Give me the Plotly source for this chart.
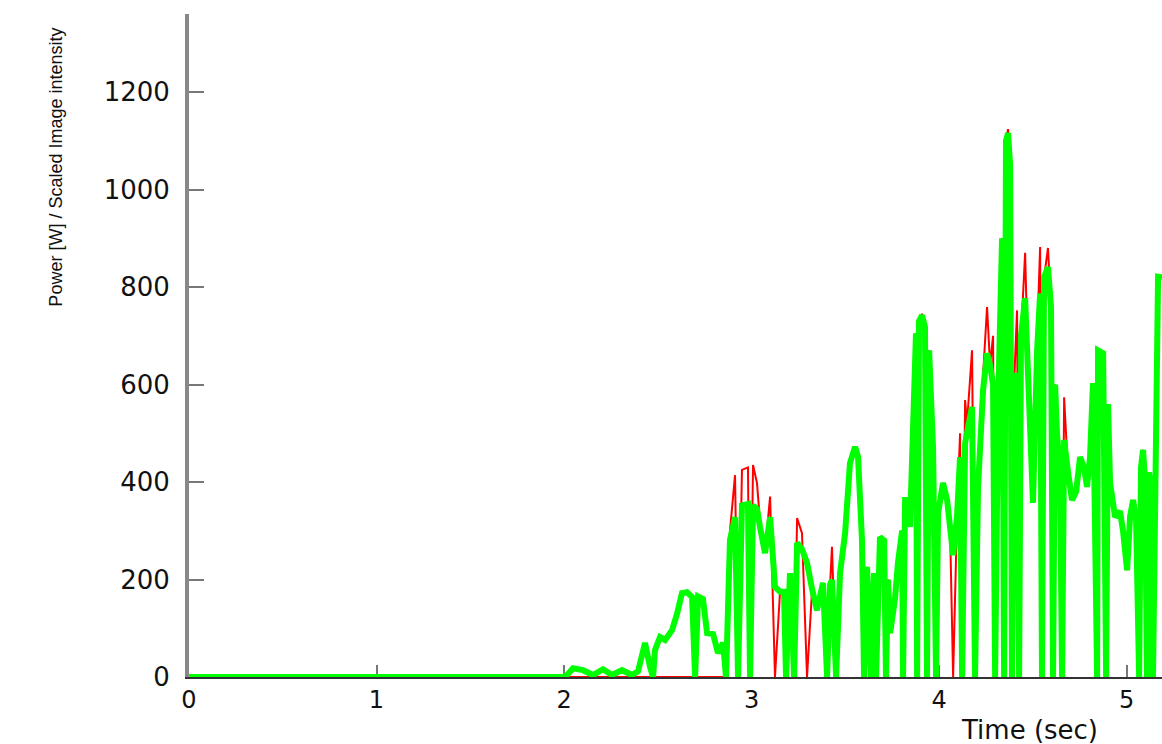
import plotly.graph_objects as go

# Time samples (s)
time_s = [
    0.0, 1.995, 2.016, 2.048, 2.101, 2.155, 2.208, 2.256, 2.309, 2.363, 2.395, 2.432, 2.459, 2.475,
    2.485, 2.512, 2.539, 2.576, 2.603, 2.629, 2.656, 2.683, 2.699, 2.715, 2.741, 2.763, 2.795, 2.821,
    2.848, 2.864, 2.885, 2.912, 2.928, 2.949, 2.981, 2.992, 3.008, 3.029, 3.045, 3.072, 3.099, 3.125,
    3.152, 3.173, 3.184, 3.205, 3.227, 3.243, 3.269, 3.296, 3.323, 3.349, 3.381, 3.403, 3.419, 3.429,
    3.451, 3.472, 3.499, 3.525, 3.552, 3.568, 3.589, 3.600, 3.616, 3.637, 3.653, 3.664, 3.685, 3.707,
    3.717, 3.728, 3.739, 3.765, 3.781, 3.803, 3.808, 3.819, 3.845, 3.861, 3.877, 3.883, 3.893, 3.909,
    3.925, 3.936, 3.947, 3.968, 3.984, 3.995, 4.021, 4.043, 4.059, 4.075, 4.096, 4.112, 4.123, 4.139,
    4.149, 4.176, 4.192, 4.208, 4.235, 4.256, 4.272, 4.288, 4.299, 4.315, 4.336, 4.347, 4.357, 4.368,
    4.379, 4.389, 4.400, 4.416, 4.427, 4.437, 4.459, 4.485, 4.501, 4.523, 4.539, 4.549, 4.560, 4.581,
    4.597, 4.608, 4.619, 4.629, 4.645, 4.656, 4.667, 4.688, 4.709, 4.731, 4.752, 4.773, 4.789, 4.805,
    4.821, 4.843, 4.848, 4.875, 4.891, 4.901, 4.912, 4.939, 4.965, 4.981, 5.003, 5.019, 5.035, 5.051,
    5.067, 5.077, 5.088, 5.099, 5.109, 5.120, 5.131, 5.141, 5.152, 5.168, 5.189,
]

# Scaled image intensity (green)
intensity = [
    0, 0, 4, 18, 14, 4, 16, 4, 14, 4, 12, 70, 20, 0,
    55, 82, 76, 96, 130, 172, 174, 164, 0, 165, 160, 90, 88, 49,
    70, 0, 281, 328, 0, 352, 355, 0, 352, 345, 308, 254, 328, 185,
    175, 175, 0, 213, 0, 275, 262, 234, 180, 137, 193, 0, 190, 199,
    0, 213, 295, 439, 472, 452, 281, 0, 226, 0, 213, 0, 287, 280,
    0, 200, 90, 160, 234, 300, 0, 369, 308, 560, 705, 0, 730, 742,
    718, 0, 670, 470, 0, 336, 398, 363, 300, 250, 330, 451, 0, 480,
    500, 554, 0, 390, 589, 664, 640, 600, 0, 560, 900, 0, 1100, 1116,
    1050, 0, 600, 623, 0, 700, 777, 480, 357, 670, 787, 0, 820, 841,
    760, 0, 600, 500, 420, 0, 486, 420, 363, 380, 451, 430, 390, 450,
    603, 0, 670, 664, 0, 560, 398, 328, 340, 300, 219, 330, 363, 320,
    0, 430, 466, 400, 0, 420, 383, 0, 450, 821, 820,
]

# Power [W] (red)
power = [
    0, 0, 0, 0, 0, 0, 0, 0, 0, 0, 0, 0, 0, 0,
    0, 0, 0, 0, 0, 0, 0, 0, 0, 0, 0, 0, 0, 0,
    0, 0, 300, 414, 0, 425, 430, 0, 435, 398, 320, 260, 370, 0,
    175, 175, 0, 213, 0, 326, 295, 0, 180, 137, 193, 0, 190, 267,
    0, 213, 295, 439, 472, 452, 281, 0, 226, 0, 213, 0, 287, 280,
    0, 200, 90, 160, 234, 300, 0, 369, 308, 560, 705, 0, 730, 745,
    718, 0, 670, 470, 0, 336, 398, 363, 300, 0, 330, 500, 0, 568,
    520, 670, 0, 390, 620, 759, 640, 700, 0, 560, 900, 0, 1100, 1124,
    1050, 0, 600, 752, 0, 700, 870, 480, 357, 700, 882, 0, 820, 880,
    760, 0, 600, 500, 420, 0, 574, 420, 363, 380, 451, 430, 390, 450,
    603, 0, 670, 664, 0, 560, 398, 328, 340, 300, 219, 330, 363, 320,
    0, 430, 466, 400, 0, 420, 383, 0, 450, 821, 820,
]

x_ticks = [0, 1, 2, 3, 4, 5]
y_ticks = [0, 200, 400, 600, 800, 1000, 1200]

fig = go.Figure()
fig.add_trace(go.Scatter(x=time_s, y=power, mode="lines",
                         line=dict(color="#ff0000", width=2), showlegend=False))
fig.add_trace(go.Scatter(x=time_s, y=intensity, mode="lines",
                         line=dict(color="#00ff00", width=6), showlegend=False))

fig.update_layout(
    width=1162, height=744,
    margin=dict(l=189, r=0, t=14, b=67),
    paper_bgcolor="white", plot_bgcolor="white",
    font=dict(family="DejaVu Sans", color="#111111"),
    xaxis=dict(range=[0, 5.189], tickvals=x_ticks, ticktext=[str(v) for v in x_ticks],
               showgrid=False, zeroline=False, showline=True, linecolor="#333333", linewidth=1.5,
               ticks="inside", ticklen=12, tickwidth=1.5, tickcolor="#777777",
               tickfont=dict(family="DejaVu Sans", size=24, color="#111111"),
               ticklabelstandoff=0, layer="below traces"),
    yaxis=dict(range=[0, 1360], tickvals=y_ticks, ticktext=[str(v) for v in y_ticks],
               showgrid=False, zeroline=False, showline=True, linecolor="#888888", linewidth=4,
               ticks="inside", ticklen=15, tickwidth=1.5, tickcolor="#777777",
               tickfont=dict(family="DejaVu Sans", size=26, color="#111111"),
               ticklabelstandoff=10, layer="below traces"),
)

fig.add_annotation(text="Power [W] / Scaled Image intensity", xref="paper", yref="paper",
                   x=-0.1362, y=0.769, textangle=-90, showarrow=False,
                   xanchor="center", yanchor="middle",
                   font=dict(family="Liberation Sans", size=18, color="#111111"))
fig.add_annotation(text="Time (sec)", xref="paper", yref="paper",
                   x=0.864, y=-0.080, showarrow=False, xanchor="center", yanchor="middle",
                   font=dict(family="DejaVu Sans", size=26, color="#111111"))

fig.write_html("out.html", config={"displayModeBar": False},
               post_script="document.body.style.margin='0';document.body.style.overflow='hidden';")
